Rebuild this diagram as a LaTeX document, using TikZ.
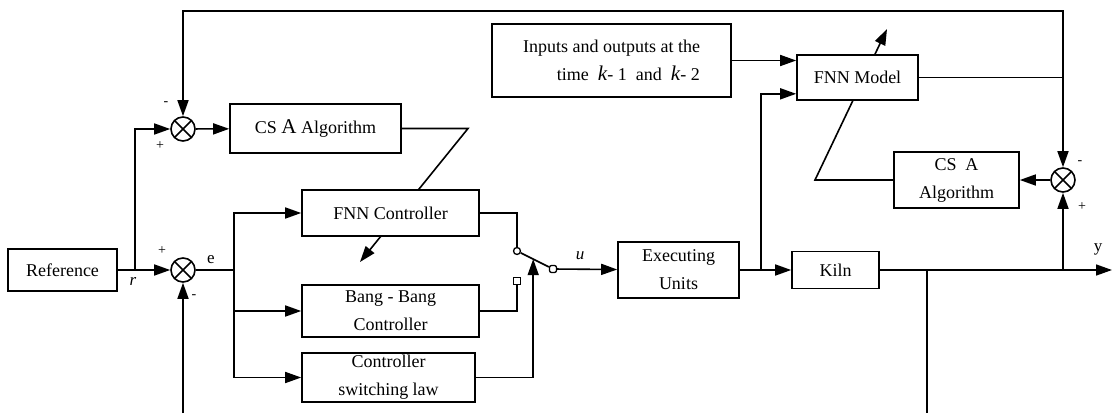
\documentclass[tikz,border=0pt]{standalone}
\usepackage{fontspec}
\setmainfont{Liberation Serif}
\usetikzlibrary{arrows.meta,positioning,calc,backgrounds}

\begin{document}
\begin{tikzpicture}[
  x=1pt, y=-1pt,
  line width=1.6pt,
  every node/.style={font=\fontsize{18}{28}\selectfont},
  block/.style ={rectangle, draw, fill=white, align=center, inner sep=0pt},
  sumjn/.style ={circle, draw, fill=white, minimum size=24pt, inner sep=0pt,
                 path picture={\draw (path picture bounding box.north west) -- (path picture bounding box.south east)
                                     (path picture bounding box.north east) -- (path picture bounding box.south west);}},
  sgn/.style   ={font=\fontsize{14}{16}\selectfont, inner sep=0pt},
  sig/.style   ={font=\fontsize{17}{20}\selectfont, inner sep=0pt},
  contact/.style={draw, fill=white, line width=1.3pt, inner sep=0pt, minimum size=7pt},
  arr/.style   ={-{Triangle[length=16pt,width=11pt]}}
]
  \useasboundingbox (0,0) rectangle (1112,413);

  % blocks
  \node[block, minimum width=109pt, minimum height=42pt] (ref)  at (62.5,270)  {Reference};
  \node[sumjn]                                           (sum1) at (183,129)   {};
  \node[sumjn]                                           (sum2) at (183,270)   {};
  \node[block, minimum width=171pt, minimum height=49pt] (csa1) at (315.5,128.5) {CS {\fontsize{21}{28}\selectfont A} Algorithm};
  \node[block, minimum width=177pt, minimum height=46pt] (fnnc) at (390.5,213) {FNN Controller};
  \node[block, minimum width=177pt, minimum height=52pt] (bang) at (390.5,311) {Bang - Bang\\Controller};
  \node[block, minimum width=173pt, minimum height=49pt] (law)  at (388.5,377.5) {Controller\\switching law};
  \node[block, minimum width=121pt, minimum height=56pt] (exec) at (678.5,270) {Executing\\Units};
  \node[block, minimum width=87pt,  minimum height=37pt] (kiln) at (835.5,270) {Kiln};
  \node[block, minimum width=239pt, minimum height=73pt, align=right] (inp) at (611.5,60.5)
       {Inputs and outputs at the\\time \ {\fontsize{21}{28}\selectfont\textit{k}}- 1 \ and \ {\fontsize{21}{28}\selectfont\textit{k}}- 2};
  \node[block, minimum width=121pt, minimum height=45pt] (fnnm) at (857.5,77.5) {FNN Model};
  \node[block, minimum width=125pt, minimum height=56pt] (csa2) at (956.5,180) {CS \ A\\Algorithm};
  \node[sumjn]                                           (sum3) at (1063,180)  {};

  % switch
  \node[contact, circle]                       (swA) at (517,251) {};
  \node[contact, rectangle]                    (swB) at (517,281) {};
  \node[contact, rectangle, rounded corners=2pt] (swO) at (553,269) {};
  \coordinate (lev) at ($(swA)!0.45!(swO)$);

  % branch points and loose ends
  \coordinate (rbr)   at (135,270);
  \coordinate (eb)    at (234,270);
  \coordinate (c1)    at (468,128.5);
  \coordinate (c1tip) at (360,262);
  \coordinate (c2)    at (815,180);
  \coordinate (c2tip) at (887,29);
  \coordinate (topR)  at (1063,11);
  \coordinate (ym)    at (1063,77.5);
  \coordinate (ubr)   at (761,270);
  \coordinate (fbR)   at (927,270);
  \coordinate (fbRend) at (927,413);
  \coordinate (fbL)   at (183,413);
  \coordinate (ybr)   at (1063,270);
  \coordinate (yend)  at (1112,270);

  % parameter tuning lines, behind the blocks
  \begin{scope}[on background layer={line width=1.6pt}]
    \draw[arr] (csa1.east) -- (c1) -- (c1tip);
    \draw[arr] (csa2.west) -- (c2) -- (c2tip);
  \end{scope}

  % connections
  \draw[arr] (ref) -- (sum2);
  \draw[arr] (rbr) |- (sum1);
  \draw[arr] (sum1) -- (csa1);
  \draw (sum2) -- (eb);
  \draw[arr] (eb) |- (fnnc);
  \draw[arr] (eb) |- (bang);
  \draw[arr] (eb) |- (law);
  \draw (fnnc.east) -| (swA);
  \draw (bang.east) -| (swB);
  \draw (swA) -- (swO);
  \draw[arr] (law.east) -| (lev);
  \draw[arr] (swO) -- (exec);
  \draw[arr] (exec) -- (kiln);
  \draw[arr] (ubr) |- ($(fnnm.south west)!0.15!(fnnm.north west)$);
  \draw[arr] (inp.east) -- (inp.east -| fnnm.west);
  \draw (fnnm.east) -- (ym);
  \draw[arr] (ym) -- (topR) -| (sum1.north);
  \draw[arr] (ym) -- (sum3.north);
  \draw[arr] (sum3) -- (csa2);
  \draw[arr] (kiln) -- (yend);
  \draw[arr] (ybr) -- (sum3);
  \draw (fbR) -- (fbRend);
  \draw[arr] (fbL) -- (sum2);

  % signal names and signs
  \node[sig] (lr) at (133,281) {\textit{r}};
  \node[sig] (le) at (211,260) {e};
  \node[sig] (lu) at (580,256) {\textit{u}};
  \node[sig] (ly) at (1098,249) {y};
  \node[sgn] (s1m) at (166,104) {-};
  \node[sgn] (s1p) at (160,146) {+};
  \node[sgn] (s2p) at (162,251) {+};
  \node[sgn] (s2m) at (194,297) {-};
  \node[sgn] (s3m) at (1080,163) {-};
  \node[sgn] (s3p) at (1082,207) {+};
\end{tikzpicture}
\end{document}
